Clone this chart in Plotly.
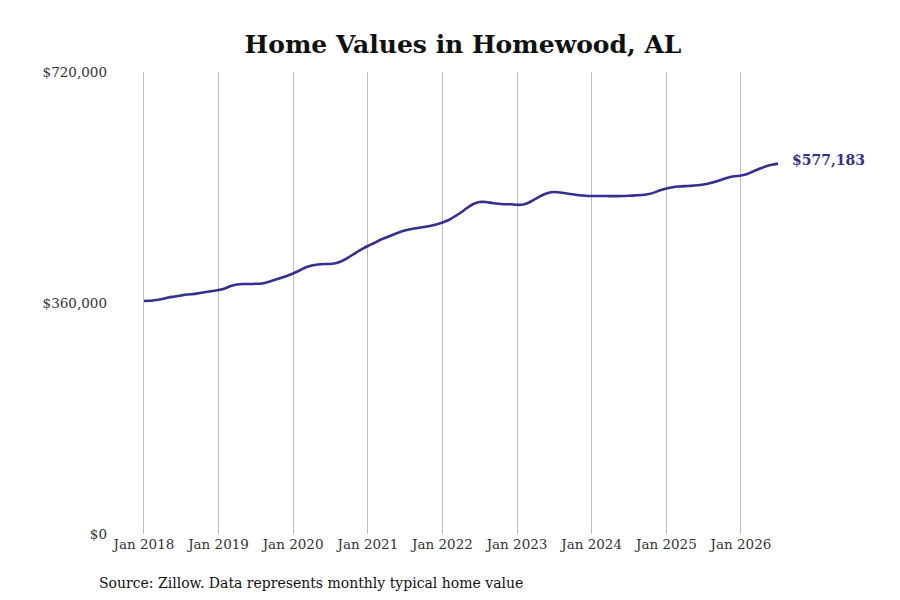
import pandas as pd
import plotly.graph_objects as go

# monthly typical home value, Jan 2018 - Jul 2026
months = pd.date_range('2018-01-01', '2026-07-01', freq='MS')

values = [
    # 2018
    363100, 363400, 364700, 366200, 368600, 370100, 371700, 373200, 374000, 375600, 377100, 378700,
    # 2019
    380200, 382600, 386500, 388800, 389600, 389600, 389900, 390400, 392700, 395800, 399000, 402100,
    # 2020
    406000, 410600, 415300, 418400, 420000, 420800, 420800, 422300, 426200, 431700, 437900, 443400,
    # 2021
    448800, 453500, 458200, 462100, 466000, 469900, 473000, 475300, 476900, 478400, 480000, 482300,
    # 2022
    485400, 489300, 494800, 501000, 508000, 514300, 517400, 517400, 515800, 514600, 514000, 513800,
    # 2023
    513000, 513500, 516600, 522100, 527500, 531400, 533000, 532200, 530600, 529400, 528000, 527100,
    # 2024
    526700, 526700, 526700, 526600, 526600, 526700, 527100, 527700, 528300, 529500, 532000, 535600,
    # 2025
    538400, 540500, 541500, 542200, 542600, 543400, 544700, 546700, 549300, 552500, 555600, 557400,
    # 2026
    558700, 561000, 564900, 569100, 572700, 575400, 577183,
]

tick_years = list(range(2018, 2027))
tick_vals = [f'{y}-01-01' for y in tick_years]
tick_text = [f'Jan {y}' for y in tick_years]

y_ticks = [0, 360000, 720000]
y_text = ['$0', '$360,000', '$720,000']

line_color = '#35308f'
font = 'DejaVu Serif'

fig = go.Figure()
fig.add_trace(go.Scatter(x=months, y=values, mode='lines',
                         line=dict(color=line_color, width=2.6, shape='spline', smoothing=0.8),
                         cliponaxis=False, hoverinfo='x+y'))

# label at the last point
fig.add_annotation(x=months[-1], y=values[-1], text=f'<b>${values[-1]:,}</b>',
                   xanchor='left', yanchor='middle', xshift=12, yshift=4, showarrow=False,
                   font=dict(family=font, size=14, color=line_color))

fig.add_annotation(x=-0.016, y=-0.085, xref='paper', yref='paper', xanchor='left', yanchor='top',
                   text='Source: Zillow. Data represents monthly typical home value', showarrow=False,
                   font=dict(family=font, size=14, color='#111'))

fig.update_layout(
    width=900, height=600,
    margin=dict(l=100, r=90, t=64, b=74),
    paper_bgcolor='white', plot_bgcolor='white',
    showlegend=False,
    font=dict(family=font, size=13, color='#333'),
    title=dict(text='<b>Home Values in Homewood, AL</b>', x=0.5, xref='paper', y=0.94, yanchor='middle',
               font=dict(family=font, size=25, color='#111')),
)
fig.update_xaxes(range=['2017-07-09', '2027-01-13'], tickvals=tick_vals, ticktext=tick_text,
                 showgrid=True, gridcolor='#bdbdbd', gridwidth=1, showline=False, zeroline=False,
                 ticks='', tickfont=dict(size=13.5))
fig.update_yaxes(range=[0, 720000], tickvals=y_ticks, ticktext=y_text,
                 showgrid=False, showline=False, zeroline=False, ticks='', tickfont=dict(size=13.5))

fig.write_html('out.html')
